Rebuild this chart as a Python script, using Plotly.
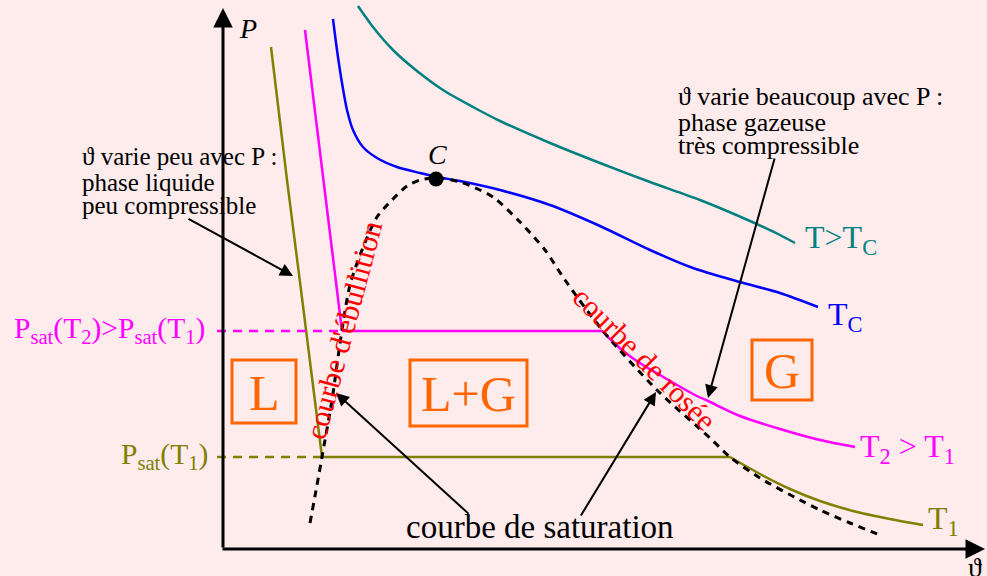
import plotly.graph_objects as go

t1_liq_v = [271, 287, 301, 322]
t1_liq_p = [47, 180, 290, 457]
t1_plat_v = [322, 730]
t1_plat_p = [457, 457]
t1_gas_v = [730, 760, 790, 820, 853, 890, 923]
t1_gas_p = [457, 474, 489, 501, 511, 519, 525]

t2_liq_v = [305, 326, 342]
t2_liq_p = [30, 200, 331]
t2_plat_v = [342, 602]
t2_plat_p = [331, 331]
t2_gas_v = [602, 613, 627, 643, 660, 677, 693, 710, 740, 780, 820, 855]
t2_gas_p = [331, 342, 354, 365, 375, 385, 394, 402, 416, 429, 440, 447]

tc_v = [333, 337, 342, 347, 353, 363, 377, 397, 420, 437, 460, 500, 550, 600, 650, 693, 740, 780, 818]
tc_p = [19, 50, 83, 110, 130, 147, 158, 167, 173, 177, 181, 190, 205, 226, 250, 268, 282, 293, 307]

thi_v = [358, 373, 393, 417, 443, 473, 500, 550, 600, 650, 700, 750, 780, 795]
thi_p = [6, 27, 50, 71, 90, 107, 121, 143, 163, 182, 200, 221, 235, 243]

sat_v = [310, 317, 322, 332, 342, 350, 362, 377, 392, 407, 420, 437,
         460, 480, 493, 520, 545, 565, 603, 657, 710, 730, 760, 800, 820, 850, 880]
sat_p = [523, 485, 457, 400, 330, 285, 250, 217, 200, 186, 180, 178,
         182, 190, 197, 222, 250, 280, 331, 390, 438, 457, 478, 500, 510, 523, 535]

crit_v = [436]
crit_p = [179]

OLIVE = "#808000"
MAGENTA = "#FF00FF"
BLUE = "#0000FF"
TEAL = "#008080"
ORANGE = "#FF6600"
RED = "#FF0000"
BG = "#FEEBEC"
FONT = "Liberation Serif"

fig = go.Figure()


def add_line(v, p, color, width=2.5, dash="solid", shape="spline"):
    fig.add_trace(go.Scatter(x=v, y=p, mode="lines",
                             line=dict(color=color, width=width, dash=dash, shape=shape,
                                       smoothing=0.8),
                             hoverinfo="skip"))


add_line(thi_v, thi_p, TEAL, 2.5)
add_line(tc_v, tc_p, BLUE, 2.5)
add_line(t2_liq_v, t2_liq_p, MAGENTA, 2.5, shape="linear")
add_line(t2_plat_v, t2_plat_p, MAGENTA, 2.5, shape="linear")
add_line(t2_gas_v, t2_gas_p, MAGENTA, 2.5)
add_line(t1_liq_v, t1_liq_p, OLIVE, 2.5, shape="linear")
add_line(t1_plat_v, t1_plat_p, OLIVE, 2.5, shape="linear")
add_line(t1_gas_v, t1_gas_p, OLIVE, 2.5)
# dashed level lines to the P axis
add_line([217, t2_liq_v[-1]], [t2_plat_p[0]] * 2, MAGENTA, 2.5, dash="9px,7px", shape="linear")
add_line([217, t1_liq_v[-1]], [t1_plat_p[0]] * 2, OLIVE, 2.5, dash="9px,7px", shape="linear")
# saturation curve
add_line(sat_v, sat_p, "black", 3, dash="7px,6px")
fig.add_trace(go.Scatter(x=crit_v, y=crit_p, mode="markers",
                         marker=dict(color="black", size=15), hoverinfo="skip"))

ann = []


def text(x, y, s, size, color="black", xa="center", ya="middle", angle=0):
    ann.append(dict(x=x, y=y, xref="x", yref="y", text=s, showarrow=False,
                    xanchor=xa, yanchor=ya, textangle=angle,
                    font=dict(family=FONT, size=size, color=color)))


def arrow(x0, y0, x1, y1, width=2, size=1.3):
    ann.append(dict(x=x1, y=y1, ax=x0, ay=y0, xref="x", yref="y", axref="x", ayref="y",
                    text="", showarrow=True, arrowhead=2, arrowsize=size,
                    arrowwidth=width, arrowcolor="black"))


# axes
arrow(223, 549, 223, 8, width=3, size=1.3)
arrow(221, 549, 985, 549, width=3, size=1.3)
text(248, 28, "<i>P</i>", 28)
text(966, 567, "ϑ", 28, xa="left")

# annotations / arrows
arrow(187, 218, 293, 276)
arrow(470, 515, 336, 393)
arrow(580, 517, 656, 392)
arrow(775, 157, 708, 398)

text(80, 156, "ϑ varie peu avec P :", 25, xa="left")
text(80, 182, "phase liquide", 25, xa="left")
text(80, 205, "peu compressible", 25, xa="left")
text(676, 96, "ϑ varie beaucoup avec P :", 26, xa="left")
text(676, 122, "phase gazeuse", 26, xa="left")
text(676, 145, "très compressible", 26, xa="left")

text(437, 154, "<i>C</i>", 28)
text(540, 527, "courbe de saturation", 33)

text(343, 330, "courbe d'ébullition", 30, color=RED, angle=-75)
text(645, 358, "courbe de rosée", 30, color=RED, angle=45)

text(803, 239, "T>T<sub>C</sub>", 32, color=TEAL, xa="left")
text(826, 316, "T<sub>C</sub>", 32, color=BLUE, xa="left")
text(858, 448, "T<sub>2</sub> > T<sub>1</sub>", 32, color=MAGENTA, xa="left")
text(926, 520, "T<sub>1</sub>", 32, color=OLIVE, xa="left")

text(207, 330, "P<sub>sat</sub>(T<sub>2</sub>)>P<sub>sat</sub>(T<sub>1</sub>)", 29.5, color=MAGENTA, xa="right")
text(210, 456, "P<sub>sat</sub>(T<sub>1</sub>)", 29.5, color=OLIVE, xa="right")

# phase boxes
boxes = [("L", 232, 296, 360, 423), ("L+G", 410, 527, 360, 426), ("G", 752, 812, 340, 400)]
shapes = []
for lab, x0, x1, y0, y1 in boxes:
    shapes.append(dict(type="rect", xref="x", yref="y", x0=x0, x1=x1, y0=y0, y1=y1,
                       line=dict(color=ORANGE, width=3), fillcolor="rgba(0,0,0,0)"))
    text((x0 + x1) / 2, (y0 + y1) / 2 + 1, lab, 50, color=ORANGE)

fig.update_layout(
    width=987, height=576,
    margin=dict(l=0, r=0, t=0, b=0),
    paper_bgcolor=BG, plot_bgcolor=BG,
    showlegend=False,
    xaxis=dict(range=[0, 987], visible=False, fixedrange=True),
    yaxis=dict(range=[576, 0], visible=False, fixedrange=True),
    annotations=ann, shapes=shapes,
)

fig.write_html(
    "out.html",
    config={"displayModeBar": False},
    post_script="document.body.style.margin='0';document.body.style.overflow='hidden';"
                "document.body.style.background='" + BG + "';",
)
